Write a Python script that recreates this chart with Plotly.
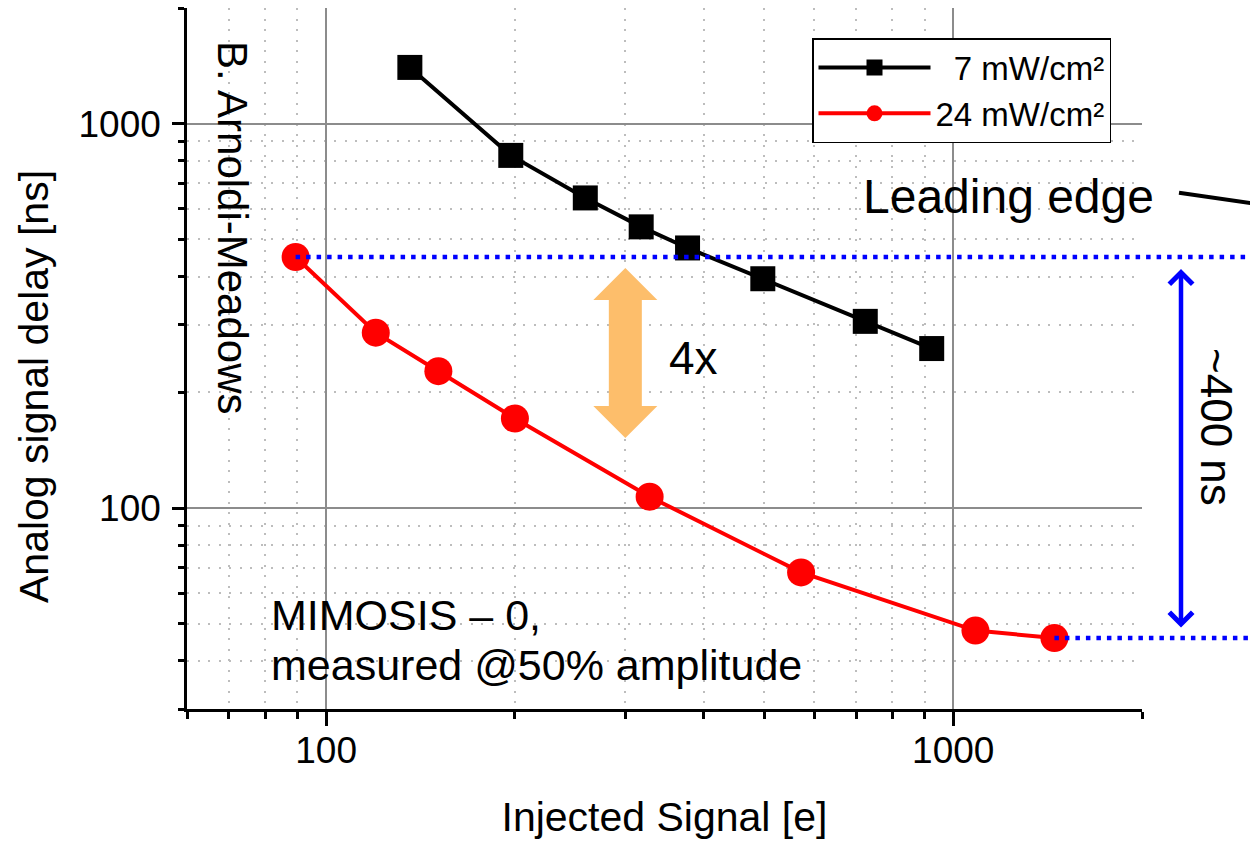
import math
import plotly.graph_objects as go

# ---- data ----
black_x = [136, 197, 259, 318, 377, 497, 724, 924]
black_y = [1401, 827, 641, 539, 475, 395, 306, 260]
red_x = [89.4, 120, 151, 200, 328, 572, 1085, 1450]
red_y = [450, 286, 227, 171, 107, 68, 48, 45.9]
black_name = "\u00a0\u00a07 mW/cm²"
red_name = "24 mW/cm²"

x_range = [60, 2000]
y_range = [30, 2000]
x_major = [100, 1000]
y_major = [100, 1000]
x_minor = [60, 70, 80, 90, 200, 300, 400, 500, 600, 700, 800, 900, 2000]
y_minor = [30, 40, 50, 60, 70, 80, 90, 200, 300, 400, 500, 600, 700, 800, 900, 2000]

FONT = "Liberation Sans, Arial, sans-serif"
L, R, T, B = 187, 108, 8, 135
W, H = 1250, 844
PW, PH = W - L - R, H - T - B


def xp(v):
    return (math.log10(v) - math.log10(x_range[0])) / (math.log10(x_range[1]) - math.log10(x_range[0]))


def yp(v):
    return (math.log10(v) - math.log10(y_range[0])) / (math.log10(y_range[1]) - math.log10(y_range[0]))


def px(xpix):
    return (xpix - L) / PW


def py(ypix):
    return 1 - (ypix - T) / PH


fig = go.Figure()
fig.add_trace(go.Scatter(
    x=black_x, y=black_y, name=black_name, mode="lines+markers",
    line=dict(color="black", width=4),
    marker=dict(symbol="square", size=25, color="black"),
))
fig.add_trace(go.Scatter(
    x=red_x, y=red_y, name=red_name, mode="lines+markers",
    line=dict(color="#ff0000", width=4),
    marker=dict(symbol="circle", size=28, color="#ff0000"),
))

axis_common = dict(
    type="log", showline=True, linecolor="black", linewidth=2.5,
    ticks="outside", tickwidth=2.5, tickcolor="black",
    tickfont=dict(family=FONT, size=37, color="black"),
    zeroline=False, mirror=False, tickmode="array", automargin=False,
    showgrid=True, gridcolor="#8c8c8c", gridwidth=2,
)
minor_grid = dict(ticks="outside", tickwidth=2.5, tickcolor="black",
                  showgrid=True, gridcolor="#bdbdbd", griddash="2px,8.5px", gridwidth=2)
fig.update_xaxes(
    range=[math.log10(x_range[0]), math.log10(x_range[1])],
    tickvals=x_major, ticktext=[str(v) for v in x_major], ticklen=14, ticklabelstandoff=-7,
    minor=dict(tickvals=x_minor, ticklen=7, **minor_grid),
    title=dict(text="Injected Signal [e]", font=dict(family=FONT, size=41, color="black"), standoff=33),
    **axis_common,
)
fig.update_yaxes(
    range=[math.log10(y_range[0]), math.log10(y_range[1])],
    tickvals=y_major, ticktext=[str(v) for v in y_major], ticklen=12, ticklabelstandoff=4,
    minor=dict(tickvals=y_minor, ticklen=6, **minor_grid),
    **axis_common,
)

shapes = []
# white mask behind the rotated author text
shapes.append(dict(type="rect", xref="paper", yref="paper", layer="between",
                   x0=px(190), x1=px(272), y0=py(487), y1=py(20),
                   fillcolor="white", line=dict(width=0)))
# blue dotted reference lines
for yv, xv in [(red_y[0], red_x[0]), (red_y[-1], red_x[-1])]:
    shapes.append(dict(type="line", xref="paper", yref="paper",
                       x0=xp(xv), x1=px(W), y0=yp(yv), y1=yp(yv),
                       line=dict(color="#0000ff", width=4.5, dash="4.5px,6px")))
# orange double arrow (pixel path around anchor)
ax_c = 300
ay_c = 253
path = ("M 0 85 L 32 53 L 16.5 53 L 16.5 -53 L 32 -53 L 0 -85 L -32 -53 L -16.5 -53 "
        "L -16.5 53 L -32 53 Z")
shapes.append(dict(type="path", xref="x", yref="y", xsizemode="pixel", ysizemode="pixel",
                   xanchor=ax_c, yanchor=ay_c, path=path, fillcolor="#fdbe6b",
                   line=dict(width=0), layer="between"))
# leading edge pointer line
shapes.append(dict(type="line", xref="paper", yref="paper",
                   x0=px(1179), y0=py(192.7), x1=px(1262), y1=py(204.8),
                   line=dict(color="black", width=4)))

annotations = []
arrow_len = (yp(red_y[0]) - yp(red_y[-1])) * PH
annotations.append(dict(xref="paper", yref="paper", x=px(1181), y=yp(red_y[0]),
                        ax=0, ay=arrow_len, axref="pixel", ayref="pixel", showarrow=True,
                        arrowhead=4, startarrowhead=4, arrowside="end+start", arrowsize=1,
                        arrowwidth=4.5, arrowcolor="#0000ff", standoff=12, startstandoff=9, text=""))
txt = dict(family=FONT, color="black")
c = dict(xref="paper", yref="paper", showarrow=False, xanchor="center", yanchor="middle")
annotations += [
    dict(x=px(34), y=py(387), text="Analog signal delay [ns]", textangle=-90,
         font=dict(size=41, **txt), **c),
    dict(x=px(1217), y=py(427), text="~400 ns", textangle=90, font=dict(size=44, **txt), **c),
    dict(x=px(1008), y=py(196), text="Leading edge", font=dict(size=48, **txt), **c),
    dict(x=px(693), y=py(358), text="4x", font=dict(size=46, **txt), **c),
    dict(x=px(232), y=py(228), text="B. Arnoldi-Meadows", textangle=90, font=dict(size=42, **txt), **c),
    dict(xref="paper", yref="paper", showarrow=False, xanchor="left", yanchor="middle",
         x=px(269), y=py(615), text="MIMOSIS – 0,", font=dict(size=43, **txt)),
    dict(xref="paper", yref="paper", showarrow=False, xanchor="left", yanchor="middle",
         x=px(269), y=py(665), text="measured @50% amplitude", font=dict(size=43, **txt)),
]

fig.update_layout(
    width=W, height=H,
    margin=dict(l=L, r=R, t=T, b=B, autoexpand=False),
    paper_bgcolor="white", plot_bgcolor="white",
    font=dict(family=FONT, color="black"),
    shapes=shapes, annotations=annotations,
    legend=dict(x=px(812), y=py(38), xanchor="left", yanchor="top",
                bgcolor="white", bordercolor="black", borderwidth=1.5,
                font=dict(family=FONT, size=33, color="black"), itemwidth=112,
                tracegroupgap=0),
)

fig.write_html("out.html", config={"displayModeBar": False},
               post_script="document.body.style.margin='0px';")
